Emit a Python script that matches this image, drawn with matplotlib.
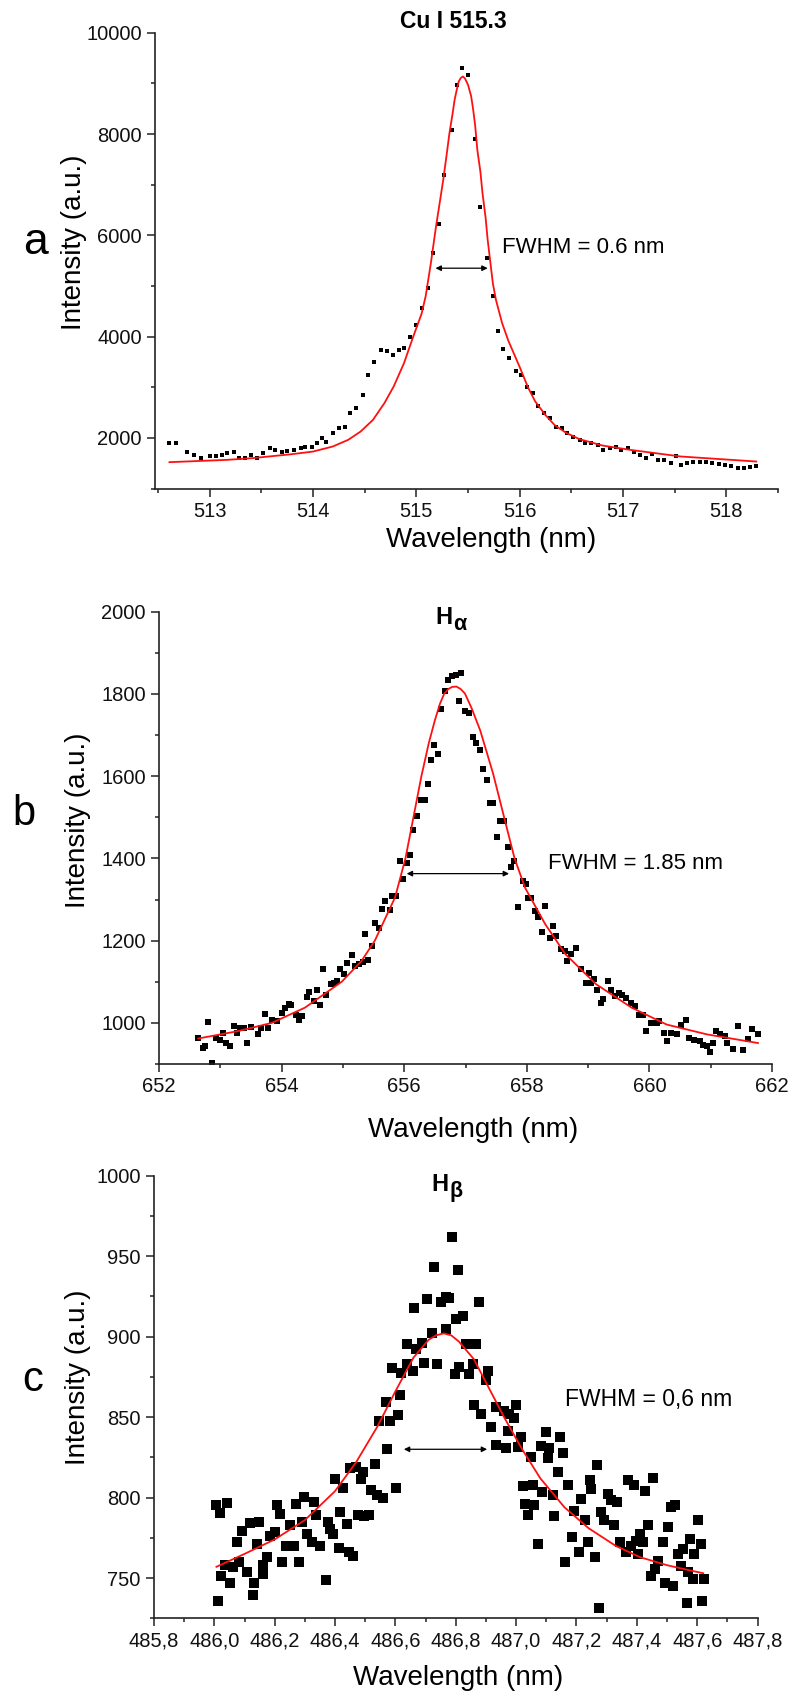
import matplotlib
matplotlib.use('Agg')
import matplotlib.pyplot as plt
from matplotlib.ticker import MultipleLocator, FuncFormatter

plt.rcParams['font.family'] = ['Liberation Sans', 'DejaVu Sans']

# ---------------- Panel a : Cu I 515.3 ----------------
wl_a = [512.61, 512.67, 512.78, 512.85, 512.92, 513.00, 513.06, 513.12, 513.17, 513.23,
        513.28, 513.34, 513.40, 513.46, 513.52, 513.58, 513.63, 513.70, 513.75, 513.82,
        513.88, 513.92, 513.99, 514.04, 514.09, 514.13, 514.19, 514.25, 514.31, 514.36,
        514.42, 514.48, 514.53, 514.59, 514.66, 514.72, 514.77, 514.83, 514.88, 514.94,
        515.00, 515.05, 515.11, 515.16, 515.22, 515.27, 515.34, 515.39, 515.44, 515.50,
        515.57, 515.62, 515.68, 515.74, 515.79, 515.84, 515.90, 515.96, 516.01, 516.07,
        516.13, 516.18, 516.24, 516.29, 516.35, 516.41, 516.46, 516.52, 516.58, 516.63,
        516.69, 516.76, 516.81, 516.87, 516.93, 516.98, 517.05, 517.11, 517.16, 517.22,
        517.28, 517.34, 517.40, 517.46, 517.51, 517.56, 517.62, 517.68, 517.75, 517.80,
        517.86, 517.93, 517.99, 518.05, 518.11, 518.17, 518.23, 518.29]
int_a = [1896, 1896, 1731, 1666, 1600, 1633, 1633, 1666, 1698, 1731,
         1600, 1600, 1666, 1600, 1698, 1797, 1764, 1731, 1751, 1764,
         1797, 1830, 1830, 1896, 1995, 1929, 2094, 2192, 2225, 2489,
         2587, 2851, 3246, 3509, 3739, 3726, 3641, 3739, 3772, 3989,
         4233, 4562, 4967, 5649, 6228, 7183, 8084, 8973, 9302, 9171,
         7900, 6570, 5550, 4806, 4121, 3752, 3575, 3331, 3246, 3015,
         2884, 2634, 2502, 2390, 2225, 2192, 2094, 2028, 1962, 1909,
         1896, 1863, 1764, 1797, 1830, 1764, 1797, 1731, 1666, 1600,
         1686, 1567, 1567, 1514, 1633, 1468, 1514, 1534, 1534, 1534,
         1501, 1481, 1468, 1448, 1402, 1402, 1422, 1448]
fit_wl_a = [512.61, 513.17, 513.41, 513.80, 514.00, 514.19, 514.34, 514.46, 514.58, 514.69,
            514.78, 514.88, 514.97, 515.05, 515.09, 515.14, 515.19, 515.23, 515.26, 515.29,
            515.32, 515.35, 515.37, 515.39, 515.41, 515.43, 515.45, 515.47, 515.50, 515.53,
            515.55, 515.57, 515.59, 515.62, 515.64, 515.67, 515.69, 515.72, 515.74, 515.77,
            515.83, 515.89, 516.00, 516.08, 516.15, 516.25, 516.34, 516.45, 516.58, 516.80,
            517.07, 517.56, 518.29]
fit_a = [1521, 1567, 1600, 1680, 1731, 1830, 1962, 2126, 2357, 2686,
         3015, 3476, 4003, 4450, 4800, 5450, 6175, 6700, 7097, 7550,
         8018, 8400, 8677, 8870, 9039, 9110, 9138, 9100, 8973, 8750,
         8479, 8150, 7689, 7250, 6834, 6350, 5912, 5400, 5056, 4727,
         4266, 3920, 3400, 3000, 2720, 2450, 2250, 2100, 1975, 1850,
         1764, 1633, 1534]

# ---------------- Panel b : H alpha ----------------
wl_b = [652.64, 652.72, 652.75, 652.80, 652.87, 652.93, 652.99, 653.05, 653.10, 653.16,
        653.22, 653.27, 653.32, 653.39, 653.43, 653.50, 653.61, 653.66, 653.73, 653.78,
        653.84, 653.92, 654.00, 654.05, 654.12, 654.16, 654.23, 654.28, 654.34, 654.41,
        654.45, 654.52, 654.57, 654.63, 654.68, 654.73, 654.80, 654.85, 654.91, 654.96,
        655.02, 655.07, 655.14, 655.20, 655.26, 655.32, 655.36, 655.41, 655.47, 655.53,
        655.59, 655.63, 655.68, 655.77, 655.80, 655.86, 655.93, 655.98, 656.04, 656.09,
        656.15, 656.21, 656.28, 656.34, 656.38, 656.43, 656.49, 656.55, 656.60, 656.66,
        656.72, 656.78, 656.84, 656.89, 656.93, 656.99, 657.06, 657.12, 657.17, 657.24,
        657.29, 657.35, 657.40, 657.45, 657.52, 657.56, 657.63, 657.69, 657.74, 657.79,
        657.85, 657.93, 657.98, 658.02, 658.07, 658.14, 658.18, 658.24, 658.30, 658.37,
        658.43, 658.47, 658.55, 658.62, 658.65, 658.72, 658.80, 658.88, 658.96, 659.01,
        659.05, 659.09, 659.14, 659.21, 659.25, 659.33, 659.37, 659.44, 659.50, 659.56,
        659.62, 659.70, 659.77, 659.83, 659.89, 659.95, 660.03, 660.12, 660.16, 660.24,
        660.28, 660.35, 660.45, 660.51, 660.59, 660.65, 660.73, 660.82, 660.87, 660.94,
        660.98, 661.04, 661.09, 661.15, 661.23, 661.27, 661.37, 661.45, 661.52, 661.60,
        661.68, 661.77]
int_b = [963, 939, 943, 1002, 902, 963, 959, 976, 951, 943,
         992, 976, 988, 988, 951, 989, 972, 988, 1022, 988,
         1008, 1004, 1024, 1037, 1045, 1043, 1020, 1008, 1016, 1063,
         1076, 1053, 1081, 1044, 1132, 1068, 1094, 1098, 1102, 1130,
         1118, 1146, 1165, 1138, 1144, 1149, 1217, 1152, 1187, 1242,
         1230, 1276, 1297, 1274, 1309, 1309, 1394, 1350, 1390, 1409,
         1469, 1504, 1542, 1542, 1580, 1640, 1677, 1653, 1763, 1807,
         1833, 1843, 1846, 1783, 1850, 1759, 1754, 1695, 1681, 1663,
         1618, 1590, 1534, 1534, 1453, 1492, 1490, 1427, 1378, 1394,
         1281, 1346, 1338, 1303, 1303, 1272, 1258, 1220, 1285, 1207,
         1236, 1211, 1179, 1175, 1151, 1167, 1183, 1130, 1098, 1122,
         1098, 1106, 1081, 1049, 1057, 1102, 1081, 1065, 1073, 1069,
         1061, 1049, 1041, 1020, 1020, 980, 1000, 1000, 1004, 976,
         955, 976, 972, 996, 1008, 964, 959, 955, 947, 943,
         929, 951, 980, 973, 968, 951, 937, 992, 935, 960,
         984, 973]
fit_wl_b = [652.64, 653.29, 653.84, 654.38, 654.98, 655.30, 655.52, 655.85, 656.02, 656.15,
            656.28, 656.40, 656.50, 656.58, 656.65, 656.72, 656.78, 656.85, 656.92, 656.99,
            657.10, 657.24, 657.45, 657.67, 657.80, 657.97, 658.30, 658.63, 659.13, 659.71,
            660.28, 660.94, 661.77]
fit_b = [962, 980, 1000, 1037, 1100, 1150, 1200, 1305, 1400, 1500,
         1600, 1680, 1736, 1775, 1800, 1812, 1817, 1818, 1812, 1801,
         1765, 1711, 1606, 1476, 1400, 1329, 1240, 1167, 1094, 1037,
         996, 972, 951]

# ---------------- Panel c : H beta ----------------
wl_c = [486.004, 486.042, 486.018, 486.021, 486.012, 486.051, 486.034, 486.062, 486.082, 486.076,
        486.093, 486.118, 486.149, 486.142, 486.107, 486.131, 486.127, 486.162, 486.160, 486.176,
        486.184, 486.201, 486.207, 486.216, 486.223, 486.238, 486.251, 486.264, 486.271, 486.281,
        486.290, 486.298, 486.307, 486.329, 486.337, 486.323, 486.351, 486.370, 486.376, 486.384,
        486.393, 486.401, 486.418, 486.427, 486.412, 486.438, 486.446, 486.460, 486.451, 486.471,
        486.487, 486.491, 486.476, 486.496, 486.512, 486.518, 486.540, 486.559, 486.534, 486.573,
        486.601, 486.546, 486.568, 486.582, 486.609, 486.616, 486.590, 486.620, 486.640, 486.657,
        486.640, 486.668, 486.687, 486.696, 486.738, 486.662, 486.704, 486.720, 486.729, 486.751,
        486.768, 486.779, 486.768, 486.787, 486.801, 486.796, 486.809, 486.812,
        486.878, 486.823, 486.834, 486.867, 486.845, 486.856, 486.906, 486.901, 486.862, 486.884,
        486.917, 486.934, 486.961, 486.978, 487.000, 486.992, 486.934, 486.967, 486.972, 487.006,
        487.017, 487.050, 487.083, 487.099, 487.110, 487.105, 487.147, 487.155, 487.138, 487.022,
        487.055, 487.085, 487.122, 487.028, 487.059, 487.039, 487.127, 487.171, 487.246, 487.249,
        487.215, 487.193, 487.227, 487.269, 487.282, 487.291, 487.306, 487.315, 487.335, 487.326,
        487.072, 487.185, 487.238, 487.210, 487.260, 487.162, 487.276, 487.370, 487.390, 487.428,
        487.453, 487.343, 487.365, 487.381, 487.398, 487.409, 487.420, 487.403, 487.436, 487.470,
        487.459, 487.448, 487.503, 487.486, 487.512, 487.527, 487.492, 487.519, 487.536, 487.552,
        487.575, 487.591, 487.613, 487.602, 487.547, 487.569, 487.586, 487.567, 487.615, 487.624]
int_c = [795.2, 796.8, 790.6, 751.4, 735.8, 747.2, 758.1, 756.6, 760.2, 772.2,
         779.5, 784.3, 784.7, 771.2, 753.5, 746.8, 739.5, 752.5, 758.1, 762.9,
         776.4, 778.5, 795.2, 790.0, 759.7, 769.7, 783.1, 769.7, 796.2, 760.2,
         784.7, 800.4, 777.5, 797.2, 789.3, 772.7, 770.2, 748.9, 784.7, 780.6,
         777.5, 811.8, 791.0, 806.0, 768.5, 783.7, 766.0, 763.9, 818.1, 819.1,
         811.4, 816.0, 788.9, 788.5, 788.9, 804.5, 801.4, 799.7, 820.6, 830.2,
         806.0, 847.7, 859.3, 847.7, 851.0, 863.5, 880.2, 877.5, 882.7, 878.5,
         895.2, 892.0, 896.2, 883.7, 883.1, 917.7, 923.3, 902.5, 943.5, 921.2,
         924.7, 924.3, 904.5, 961.8, 910.8, 876.8, 941.4, 881.0,
         921.6, 912.9, 895.2, 895.2, 876.8, 882.7, 878.5, 873.3, 857.7, 851.8,
         844.1, 856.0, 853.5, 851.8, 857.7, 849.3, 832.7, 831.0, 841.4, 831.6,
         837.9, 825.4, 832.2, 840.6, 830.6, 824.4, 837.9, 827.5, 816.0, 807.2,
         808.1, 803.5, 801.4, 796.2, 795.2, 789.3, 788.5, 808.1, 810.8, 805.6,
         799.3, 791.4, 785.8, 820.2, 791.0, 785.8, 802.5, 798.3, 797.2, 782.7,
         771.2, 775.4, 772.2, 766.0, 762.9, 760.2, 731.6, 810.8, 808.1, 803.9,
         812.3, 772.2, 766.0, 770.2, 773.3, 777.5, 772.2, 765.0, 782.7, 760.8,
         755.6, 751.4, 781.6, 772.2, 794.1, 795.2, 747.2, 745.2, 765.0, 768.1,
         774.3, 765.0, 771.2, 785.8, 757.7, 753.5, 749.3, 734.8, 735.8, 749.3]
fit_wl_c = [486.007, 486.10, 486.20, 486.30, 486.40, 486.47, 486.54, 486.60, 486.66, 486.71,
            486.735, 486.76, 486.785, 486.81, 486.86, 486.91, 486.96, 487.02, 487.08, 487.16,
            487.24, 487.33, 487.41, 487.50, 487.57, 487.62]
fit_c = [757, 765, 774, 786, 804, 822, 844, 866, 887, 898,
         900.8, 902, 900.8, 897, 886, 868, 850, 830, 812, 794,
         781, 770, 763, 758, 755, 753]

fig = plt.figure(figsize=(7.92, 16.94), dpi=100)

def style(ax, xlim, ylim, xmaj, xmin, ymaj, ymin):
    ax.set_xlim(*xlim)
    ax.set_ylim(*ylim)
    for s in ['top', 'right']:
        ax.spines[s].set_visible(False)
    for s in ['left', 'bottom']:
        ax.spines[s].set_linewidth(1.2)
        ax.spines[s].set_color('#222222')
    ax.xaxis.set_major_locator(MultipleLocator(xmaj))
    ax.xaxis.set_minor_locator(MultipleLocator(xmin))
    ax.yaxis.set_major_locator(MultipleLocator(ymaj))
    ax.yaxis.set_minor_locator(MultipleLocator(ymin))
    ax.tick_params(which='major', direction='out', length=5.5, width=1.1,
                   labelsize=14.5, pad=4, color='#222222', labelcolor='#111111')
    ax.tick_params(which='minor', direction='out', length=3, width=1.1, color='#222222')

def labels(ax, xl, yl):
    ax.set_xlabel('Wavelength (nm)', fontsize=20)
    ax.set_ylabel('Intensity (a.u.)', fontsize=20)
    ax.xaxis.set_label_coords(*xl)
    ax.yaxis.set_label_coords(*yl)
    ax.xaxis.label.set_va('center')
    ax.yaxis.label.set_va('center')

arrow_kw = dict(arrowstyle='<|-|>', lw=0.9, color='black', mutation_scale=8,
                shrinkA=0, shrinkB=0)

# Panel a
ax1 = fig.add_axes([0.1957, 0.7116, 0.7866, 0.2690])
ax1.plot(wl_a, int_a, 's', color='black', ms=3.2, mec='black', mew=0)
ax1.plot(fit_wl_a, fit_a, '-', color='#ff1010', lw=1.3)
style(ax1, (512.47, 518.5), (1000, 10000), 1, 0.5, 2000, 1000)
labels(ax1, (0.539, -0.113), (-0.130, 0.541))
ax1.text(0.479, 1.024, 'Cu I 515.3', transform=ax1.transAxes, ha='center', va='center',
         fontsize=16.5, fontweight='bold')
ax1.annotate('', xy=(515.69, 5352), xytext=(515.185, 5352), arrowprops=arrow_kw)
ax1.text(515.83, 5754, 'FWHM = 0.6 nm', ha='left', va='center', fontsize=16)

# Panel b
ax2 = fig.add_axes([0.2008, 0.3719, 0.7740, 0.2670])
ax2.plot(wl_b, int_b, 's', color='black', ms=3.8, mec='black', mew=0)
ax2.plot(fit_wl_b, fit_b, '-', color='#ff1010', lw=1.3)
style(ax2, (652, 662), (900, 2000), 2, 1, 200, 100)
labels(ax2, (0.513, -0.146), (-0.132, 0.539))
h2 = ax2.text(0.465, 0.988, 'H', transform=ax2.transAxes, ha='center', va='center',
              fontsize=17, fontweight='bold')
ax2.annotate('α', xy=(1.0, 0.0), xycoords=h2, xytext=(0.5, 3), textcoords='offset points',
             ha='left', va='center', fontsize=15.5, fontweight='bold')
ax2.annotate('', xy=(657.71, 1363), xytext=(656.04, 1363), arrowprops=arrow_kw)
ax2.text(658.35, 1387, 'FWHM = 1.85 nm', ha='left', va='center', fontsize=16)

# Panel c
ax3 = fig.add_axes([0.1944, 0.04469, 0.7621, 0.2613])
ax3.plot(wl_c, int_c, 's', color='black', ms=6.5, mec='black', mew=0)
ax3.plot(fit_wl_c, fit_c, '-', color='#ff1010', lw=1.3)
style(ax3, (485.8, 487.8), (725, 1000), 0.2, 0.1, 50, 25)
ax3.xaxis.set_major_formatter(FuncFormatter(lambda v, p: f'{v:.1f}'.replace('.', ',')))
labels(ax3, (0.504, -0.135), (-0.126, 0.545))
h3 = ax3.text(0.474, 0.98, 'H', transform=ax3.transAxes, ha='center', va='center',
              fontsize=17, fontweight='bold')
ax3.annotate('β', xy=(1.0, 0.0), xycoords=h3, xytext=(0.5, 3), textcoords='offset points',
             ha='left', va='center', fontsize=15.5, fontweight='bold')
ax3.annotate('', xy=(486.904, 830), xytext=(486.628, 830), arrowprops=arrow_kw)
ax3.text(487.162, 860.7, 'FWHM = 0,6 nm', ha='left', va='center', fontsize=16.5)

# panel letters
fig.text(0.0442, 0.8566, 'a', fontsize=32, ha='center', va='center')
fig.text(0.0303, 0.5195, 'b', fontsize=30, ha='center', va='center')
fig.text(0.0417, 0.1854, 'c', fontsize=30, ha='center', va='center')

fig.savefig('out.png', dpi=100)
